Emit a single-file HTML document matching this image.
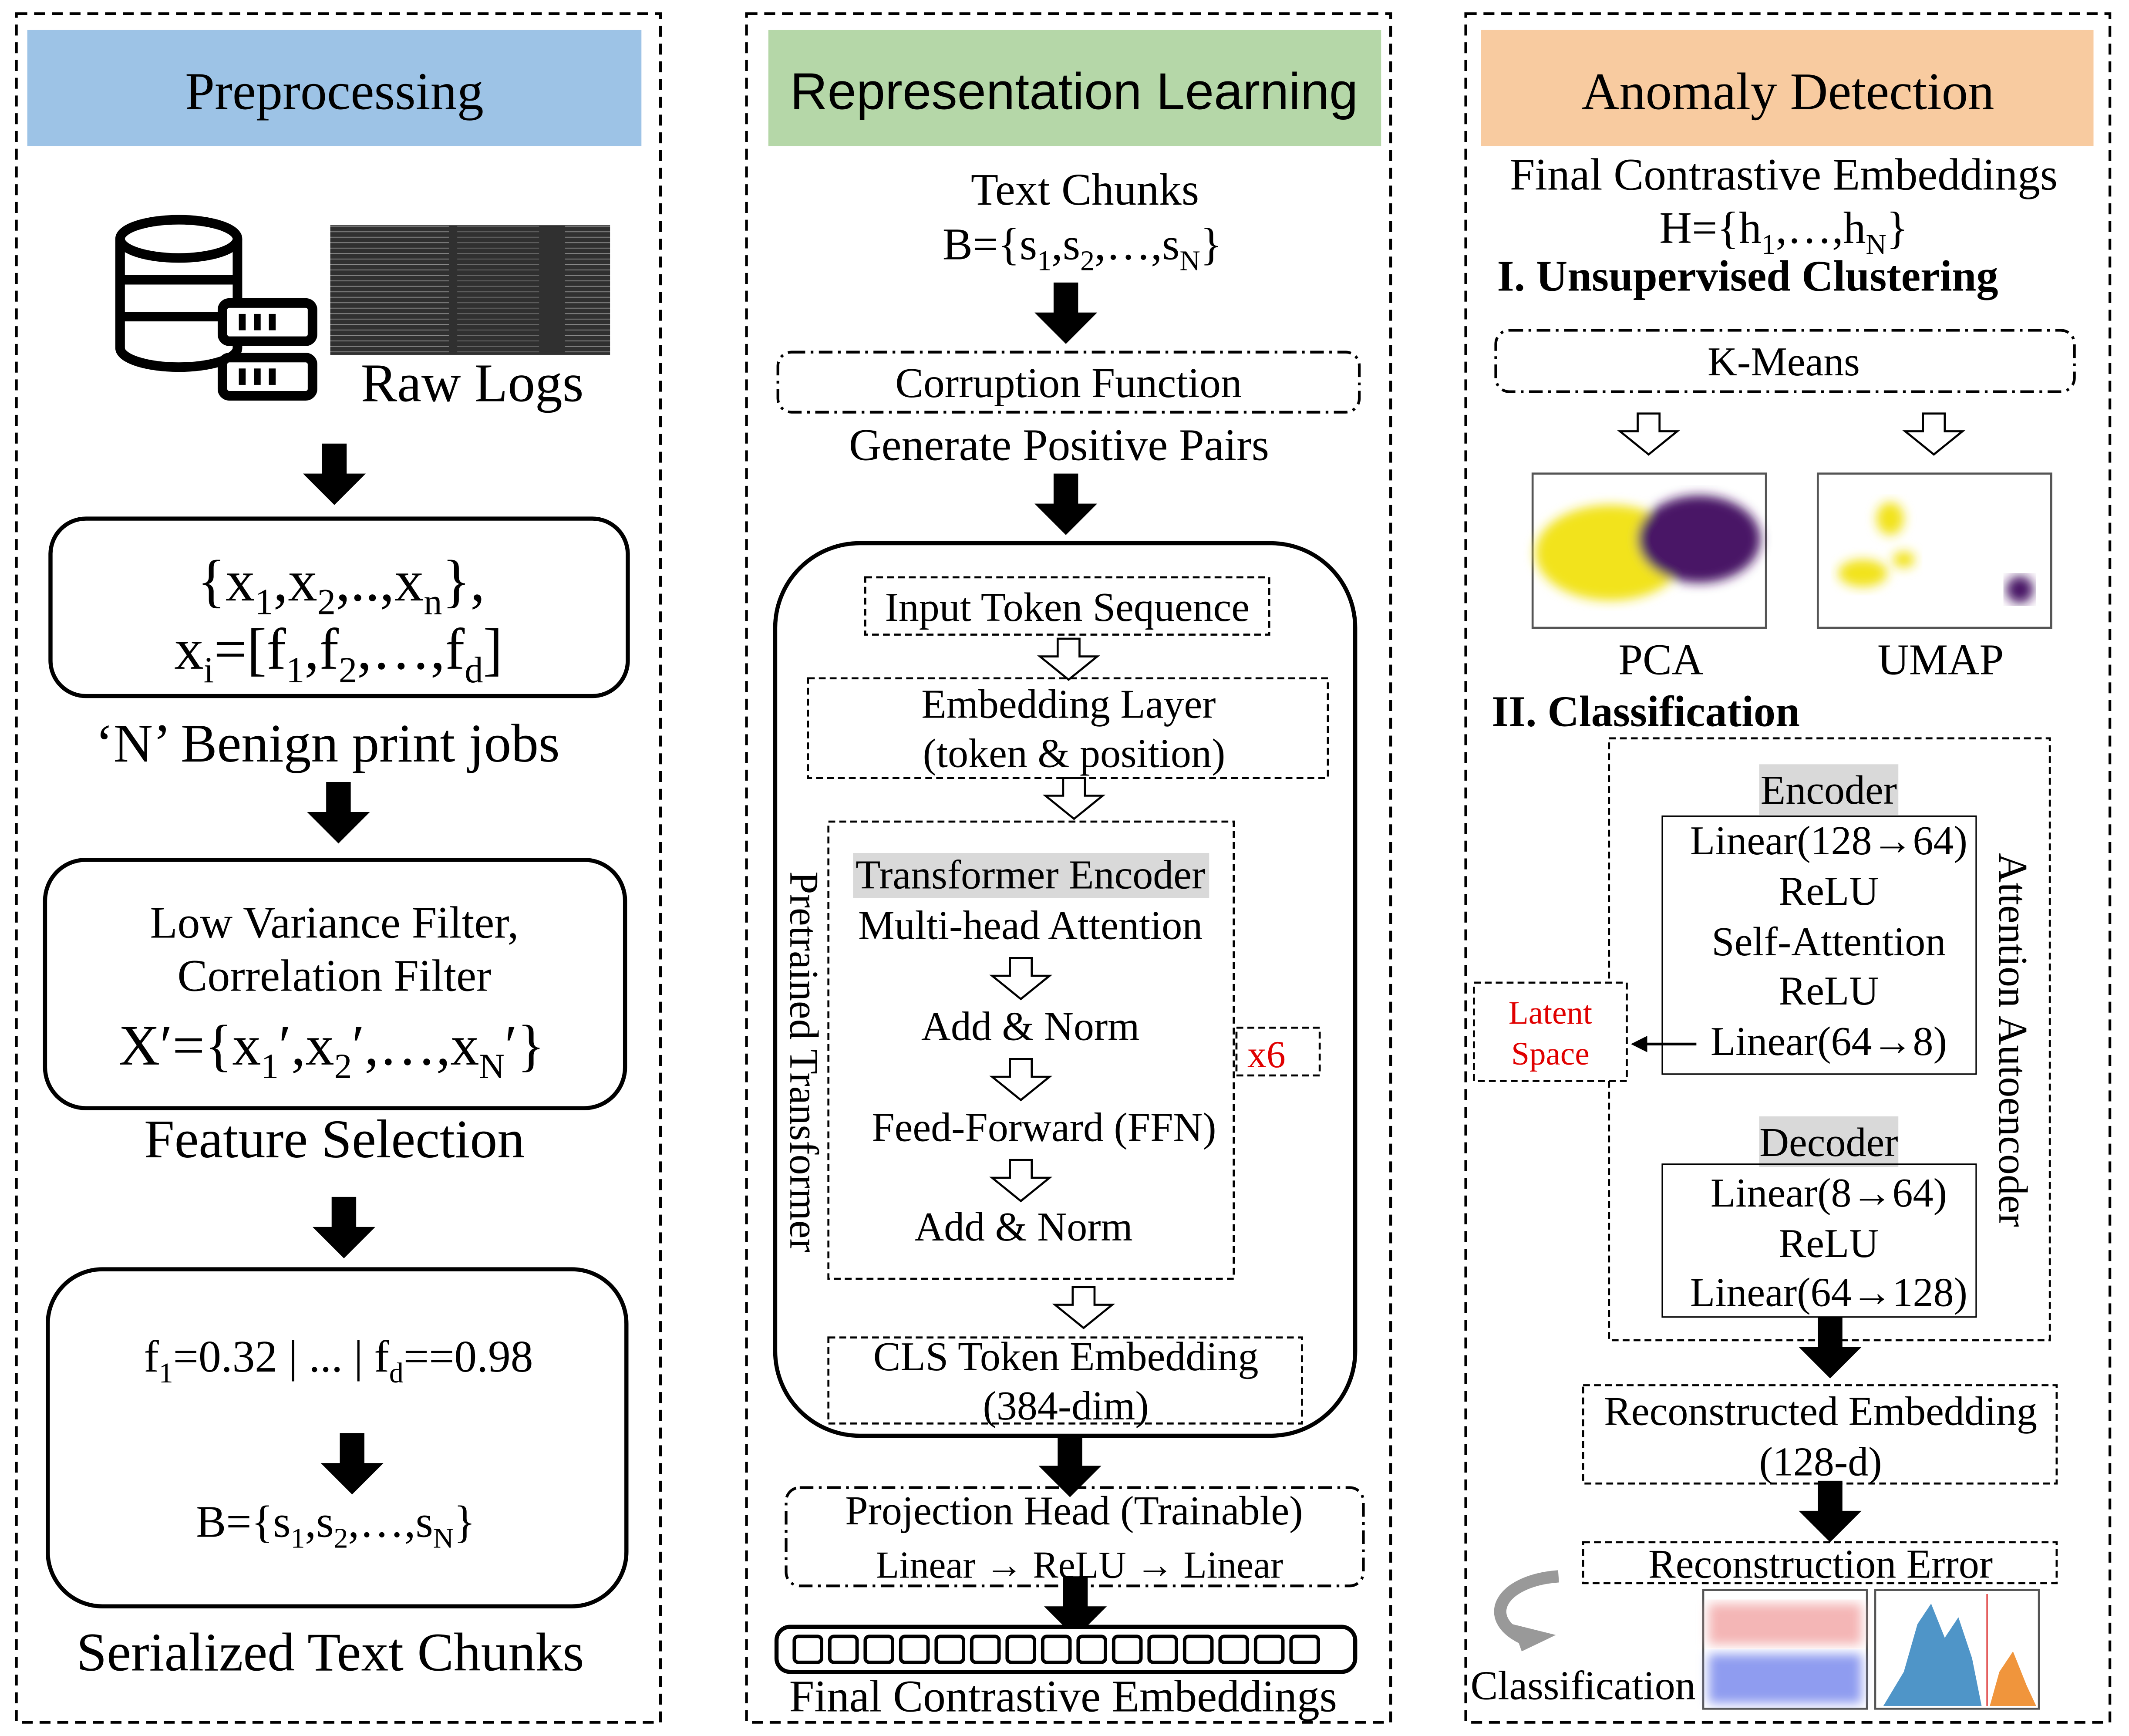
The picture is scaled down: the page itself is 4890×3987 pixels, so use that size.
<!DOCTYPE html>
<html><head><meta charset="utf-8"><style>
html,body{margin:0;padding:0;background:#fff}
svg{display:block}
text{font-family:"Liberation Serif",serif;fill:#000}
.s{font-family:"Liberation Sans",sans-serif}
</style></head><body>
<svg width="4890" height="3987" viewBox="0 0 1560 1272" preserveAspectRatio="none" xmlns="http://www.w3.org/2000/svg">
<defs>
<g id="ba"><polygon points="-9,0 9,0 9,22 23,22 0,45 -23,22 -9,22" fill="#000"/></g>
<g id="ha"><polygon points="-8,0 8,0 8,13 21,13 0,30 -21,13 -8,13" fill="#fff" stroke="#000" stroke-width="1.5"/></g>
<pattern id="logp" width="205" height="4" patternUnits="userSpaceOnUse"><rect width="205" height="4" fill="#303030"/><rect x="4" y="1.5" width="120" height="0.6" fill="#8a8a8a"/><rect x="130" y="1.5" width="60" height="0.6" fill="#6a6a6a"/></pattern>
<filter id="bl"><feGaussianBlur stdDeviation="4"/></filter>
</defs>
<g fill="none" stroke="#000" stroke-width="2" stroke-dasharray="8,5">
<rect x="12" y="10" width="472" height="1252"/>
<rect x="547" y="10" width="472" height="1252"/>
<rect x="1074" y="10" width="472" height="1252"/>
</g>
<rect x="20" y="22" width="450" height="85" fill="#9dc3e6"/>
<rect x="563" y="22" width="449" height="85" fill="#b5d7a8"/>
<rect x="1085" y="22" width="449" height="85" fill="#f8cba0"/>
<text x="245" y="80" font-size="39" text-anchor="middle">Preprocessing</text>
<text x="787" y="80" font-size="38" text-anchor="middle" class="s">Representation Learning</text>
<text x="1310" y="80" font-size="38.5" text-anchor="middle">Anomaly Detection</text>

<!-- Panel 1 -->
<g fill="#fff" stroke="#000" stroke-width="7">
<path d="M88,175 v80 a43,14 0 0 0 86,0 v-80"/>
<line x1="88" y1="205" x2="174" y2="205"/><line x1="88" y1="232" x2="174" y2="232"/>
<ellipse cx="131" cy="175" rx="43" ry="14"/>
<rect x="163" y="222" width="66" height="28" rx="5"/>
<rect x="163" y="262" width="66" height="28" rx="5"/>
</g>
<g fill="#000"><rect x="175" y="230" width="5" height="12"/><rect x="186" y="230" width="5" height="12"/><rect x="197" y="230" width="5" height="12"/><rect x="175" y="270" width="5" height="12"/><rect x="186" y="270" width="5" height="12"/><rect x="197" y="270" width="5" height="12"/></g>
<rect x="242" y="165" width="205" height="95" fill="url(#logp)"/>
<text x="346" y="294" font-size="40" text-anchor="middle">Raw Logs</text>
<use href="#ba" x="245" y="325"/>
<rect x="37" y="380" width="423" height="130" rx="26" fill="none" stroke="#000" stroke-width="3"/>
<text x="250" y="440" font-size="43" text-anchor="middle">{x<tspan font-size="27" dy="10">1</tspan><tspan dy="-10">,x</tspan><tspan font-size="27" dy="10">2</tspan><tspan dy="-10">,..,x</tspan><tspan font-size="27" dy="10">n</tspan><tspan dy="-10">},</tspan></text>
<text x="248" y="490" font-size="43" text-anchor="middle">x<tspan font-size="27" dy="10">i</tspan><tspan dy="-10">=[f</tspan><tspan font-size="27" dy="10">1</tspan><tspan dy="-10">,f</tspan><tspan font-size="27" dy="10">2</tspan><tspan dy="-10">,…,f</tspan><tspan font-size="27" dy="10">d</tspan><tspan dy="-10">]</tspan></text>
<text x="240" y="558" font-size="40" text-anchor="middle">‘N’ Benign print jobs</text>
<use href="#ba" x="248" y="573"/>
<rect x="33" y="630" width="425" height="182" rx="30" fill="none" stroke="#000" stroke-width="3"/>
<text x="245" y="687" font-size="33" text-anchor="middle">Low Variance Filter,</text>
<text x="245" y="726" font-size="33" text-anchor="middle">Correlation Filter</text>
<text x="243" y="780" font-size="42" text-anchor="middle">X′={x<tspan font-size="26" dy="10">1</tspan><tspan dy="-10">′,x</tspan><tspan font-size="26" dy="10">2</tspan><tspan dy="-10">′,…,x</tspan><tspan font-size="26" dy="10">N</tspan><tspan dy="-10">′}</tspan></text>
<text x="245" y="848" font-size="40" text-anchor="middle">Feature Selection</text>
<use href="#ba" x="252" y="877"/>
<rect x="35" y="930" width="424" height="247" rx="40" fill="none" stroke="#000" stroke-width="3"/>
<text x="248" y="1005" font-size="33" text-anchor="middle">f<tspan font-size="21" dy="8">1</tspan><tspan dy="-8">=0.32 | ... | f</tspan><tspan font-size="21" dy="8">d</tspan><tspan dy="-8">==0.98</tspan></text>
<use href="#ba" x="258" y="1050"/>
<text x="246" y="1126" font-size="33" text-anchor="middle">B={s<tspan font-size="21" dy="8">1</tspan><tspan dy="-8">,s</tspan><tspan font-size="21" dy="8">2</tspan><tspan dy="-8">,…,s</tspan><tspan font-size="21" dy="8">N</tspan><tspan dy="-8">}</tspan></text>
<text x="242" y="1224" font-size="40" text-anchor="middle">Serialized Text Chunks</text>

<!-- Panel 2 -->
<text x="795" y="150" font-size="33" text-anchor="middle">Text Chunks</text>
<text x="793" y="190" font-size="33" text-anchor="middle">B={s<tspan font-size="21" dy="8">1</tspan><tspan dy="-8">,s</tspan><tspan font-size="21" dy="8">2</tspan><tspan dy="-8">,…,s</tspan><tspan font-size="21" dy="8">N</tspan><tspan dy="-8">}</tspan></text>
<use href="#ba" x="781" y="207"/>
<rect x="570" y="258" width="426" height="44" rx="10" fill="none" stroke="#000" stroke-width="2" stroke-dasharray="10,4,2,4"/>
<text x="783" y="291" font-size="31" text-anchor="middle">Corruption Function</text>
<text x="776" y="337" font-size="33" text-anchor="middle">Generate Positive Pairs</text>
<use href="#ba" x="781" y="347"/>
<rect x="568" y="398" width="425" height="654" rx="62" fill="none" stroke="#000" stroke-width="3"/>
<g fill="none" stroke="#000" stroke-width="1.5" stroke-dasharray="5,3">
<rect x="634" y="423" width="296" height="42"/>
<rect x="592" y="497" width="381" height="73"/>
<rect x="607" y="602" width="297" height="335"/>
<rect x="906" y="753" width="61" height="35"/>
<rect x="607" y="980" width="347" height="63"/>
</g>
<text x="782" y="455" font-size="30" text-anchor="middle">Input Token Sequence</text>
<use href="#ha" x="783" y="468"/>
<text x="783" y="526" font-size="30" text-anchor="middle">Embedding Layer</text>
<text x="787" y="562" font-size="30" text-anchor="middle">(token &amp; position)</text>
<use href="#ha" x="787" y="570"/>
<rect x="625" y="625" width="261" height="33" fill="#d9d9d9"/>
<text x="755" y="651" font-size="30" text-anchor="middle">Transformer Encoder</text>
<text x="755" y="688" font-size="30" text-anchor="middle">Multi-head Attention</text>
<use href="#ha" x="748" y="702"/>
<text x="755" y="762" font-size="30" text-anchor="middle">Add &amp; Norm</text>
<use href="#ha" x="748" y="776"/>
<text x="765" y="836" font-size="30" text-anchor="middle">Feed-Forward (FFN)</text>
<use href="#ha" x="748" y="850"/>
<text x="750" y="909" font-size="30" text-anchor="middle">Add &amp; Norm</text>
<text x="928" y="782" font-size="28" text-anchor="middle" style="fill:#e00000">x6</text>
<text transform="translate(579,778) rotate(90)" font-size="30" text-anchor="middle">Pretrained Transformer</text>
<use href="#ha" x="794" y="943"/>
<text x="781" y="1004" font-size="30" text-anchor="middle">CLS Token Embedding</text>
<text x="781" y="1040" font-size="30" text-anchor="middle">(384-dim)</text>
<use href="#ba" x="784" y="1052"/>
<rect x="576" y="1090" width="423" height="72" rx="10" fill="none" stroke="#000" stroke-width="2" stroke-dasharray="10,4,2,4"/>
<text x="787" y="1117" font-size="30" text-anchor="middle">Projection Head (Trainable)</text>
<text x="791" y="1156" font-size="28" text-anchor="middle">Linear → ReLU → Linear</text>
<use href="#ba" x="788" y="1155"/>
<rect x="569" y="1192" width="424" height="33" rx="10" fill="#fff" stroke="#000" stroke-width="3"/>
<g fill="none" stroke="#000" stroke-width="2.5">
<rect x="582" y="1199" width="20" height="19" rx="3"/><rect x="608" y="1199" width="20" height="19" rx="3"/><rect x="634" y="1199" width="20" height="19" rx="3"/><rect x="660" y="1199" width="20" height="19" rx="3"/><rect x="686" y="1199" width="20" height="19" rx="3"/><rect x="712" y="1199" width="20" height="19" rx="3"/><rect x="738" y="1199" width="20" height="19" rx="3"/><rect x="764" y="1199" width="20" height="19" rx="3"/><rect x="790" y="1199" width="20" height="19" rx="3"/><rect x="816" y="1199" width="20" height="19" rx="3"/><rect x="842" y="1199" width="20" height="19" rx="3"/><rect x="868" y="1199" width="20" height="19" rx="3"/><rect x="894" y="1199" width="20" height="19" rx="3"/><rect x="920" y="1199" width="20" height="19" rx="3"/><rect x="946" y="1199" width="20" height="19" rx="3"/>
</g>
<text x="779" y="1254" font-size="33" text-anchor="middle">Final Contrastive Embeddings</text>

<!-- Panel 3 -->
<text x="1307" y="139" font-size="33" text-anchor="middle">Final Contrastive Embeddings</text>
<text x="1307" y="178" font-size="33" text-anchor="middle">H={h<tspan font-size="21" dy="8">1</tspan><tspan dy="-8">,…,h</tspan><tspan font-size="21" dy="8">N</tspan><tspan dy="-8">}</tspan></text>
<text x="1097" y="213" font-size="32" font-weight="bold">I.  Unsupervised Clustering</text>
<rect x="1096" y="242" width="424" height="45" rx="10" fill="none" stroke="#000" stroke-width="2" stroke-dasharray="10,4,2,4"/>
<text x="1307" y="275" font-size="30" text-anchor="middle">K-Means</text>
<use href="#ha" x="1208" y="303"/>
<use href="#ha" x="1417" y="303"/>
<rect x="1123" y="347" width="171" height="113" fill="#fff" stroke="#555" stroke-width="1.5"/>
<g filter="url(#bl)"><ellipse cx="1180" cy="405" rx="55" ry="35" fill="#f2e31b"/><ellipse cx="1245" cy="395" rx="45" ry="32" fill="#4a1466"/></g>
<rect x="1332" y="347" width="171" height="113" fill="#fff" stroke="#555" stroke-width="1.5"/>
<g filter="url(#bl)" fill="#f2e31b"><ellipse cx="1385" cy="380" rx="10" ry="12"/><ellipse cx="1365" cy="420" rx="18" ry="10"/><ellipse cx="1395" cy="410" rx="8" ry="6"/></g>
<ellipse cx="1480" cy="432" rx="10" ry="10" fill="#4a1466" filter="url(#bl)"/>
<text x="1217" y="494" font-size="32" text-anchor="middle">PCA</text>
<text x="1422" y="494" font-size="32" text-anchor="middle">UMAP</text>
<text x="1093" y="532" font-size="32" font-weight="bold">II. Classification</text>
<rect x="1179" y="541" width="323" height="441" fill="none" stroke="#000" stroke-width="1.5" stroke-dasharray="5,3"/>
<text transform="translate(1465,762) rotate(90)" font-size="30" text-anchor="middle">Attention Autoencoder</text>
<rect x="1289" y="560" width="102" height="37" fill="#d9d9d9"/>
<text x="1340" y="589" font-size="30" text-anchor="middle">Encoder</text>
<rect x="1218" y="598" width="230" height="189" fill="none" stroke="#000" stroke-width="1"/>
<text x="1340" y="626" font-size="30" text-anchor="middle">Linear(128→64)</text>
<text x="1340" y="663" font-size="30" text-anchor="middle">ReLU</text>
<text x="1340" y="700" font-size="30" text-anchor="middle">Self-Attention</text>
<text x="1340" y="736" font-size="30" text-anchor="middle">ReLU</text>
<text x="1340" y="773" font-size="30" text-anchor="middle">Linear(64→8)</text>
<rect x="1080" y="720" width="112" height="72" fill="#fff" stroke="#000" stroke-width="1.5" stroke-dasharray="5,3"/>
<text x="1136" y="750" font-size="24" text-anchor="middle" style="fill:#e00000">Latent</text>
<text x="1136" y="780" font-size="24" text-anchor="middle" style="fill:#e00000">Space</text>
<line x1="1243" y1="765" x2="1205" y2="765" stroke="#000" stroke-width="2"/>
<polygon points="1195,765 1207,759 1207,771" fill="#000"/>
<rect x="1289" y="818" width="102" height="37" fill="#d9d9d9"/>
<text x="1340" y="847" font-size="30" text-anchor="middle">Decoder</text>
<rect x="1218" y="853" width="230" height="112" fill="none" stroke="#000" stroke-width="1"/>
<text x="1340" y="884" font-size="30" text-anchor="middle">Linear(8→64)</text>
<text x="1340" y="921" font-size="30" text-anchor="middle">ReLU</text>
<text x="1340" y="957" font-size="30" text-anchor="middle">Linear(64→128)</text>
<use href="#ba" x="1341" y="965"/>
<rect x="1160" y="1015" width="347" height="72" fill="none" stroke="#000" stroke-width="1.5" stroke-dasharray="5,3"/>
<text x="1334" y="1044" font-size="30" text-anchor="middle">Reconstructed Embedding</text>
<text x="1334" y="1081" font-size="30" text-anchor="middle">(128-d)</text>
<use href="#ba" x="1341" y="1085"/>
<rect x="1160" y="1130" width="347" height="30" fill="none" stroke="#000" stroke-width="1.5" stroke-dasharray="5,3"/>
<text x="1334" y="1156" font-size="30" text-anchor="middle">Reconstruction Error</text>
<path d="M1142,1155 C1100,1158 1085,1185 1115,1200" fill="none" stroke="#999" stroke-width="9"/>
<polygon points="1108,1190 1140,1198 1115,1210" fill="#999"/>
<text x="1160" y="1245" font-size="30" text-anchor="middle">Classification</text>
<rect x="1248" y="1165" width="120" height="87" fill="#fff" stroke="#555" stroke-width="1.5"/>
<rect x="1252" y="1175" width="112" height="30" fill="#f4b6b6" filter="url(#bl)"/>
<rect x="1252" y="1212" width="112" height="36" fill="#8f9cf0" filter="url(#bl)"/>
<rect x="1374" y="1165" width="120" height="87" fill="#fff" stroke="#555" stroke-width="1.5"/>
<polygon points="1380,1250 1395,1225 1405,1190 1415,1175 1425,1200 1435,1185 1445,1215 1452,1250" fill="#4f95c8"/>
<polygon points="1458,1250 1465,1225 1475,1210 1485,1235 1492,1250" fill="#f0953c"/>
<line x1="1456" y1="1168" x2="1456" y2="1250" stroke="#d33" stroke-width="1"/>
</svg>
</body></html>
